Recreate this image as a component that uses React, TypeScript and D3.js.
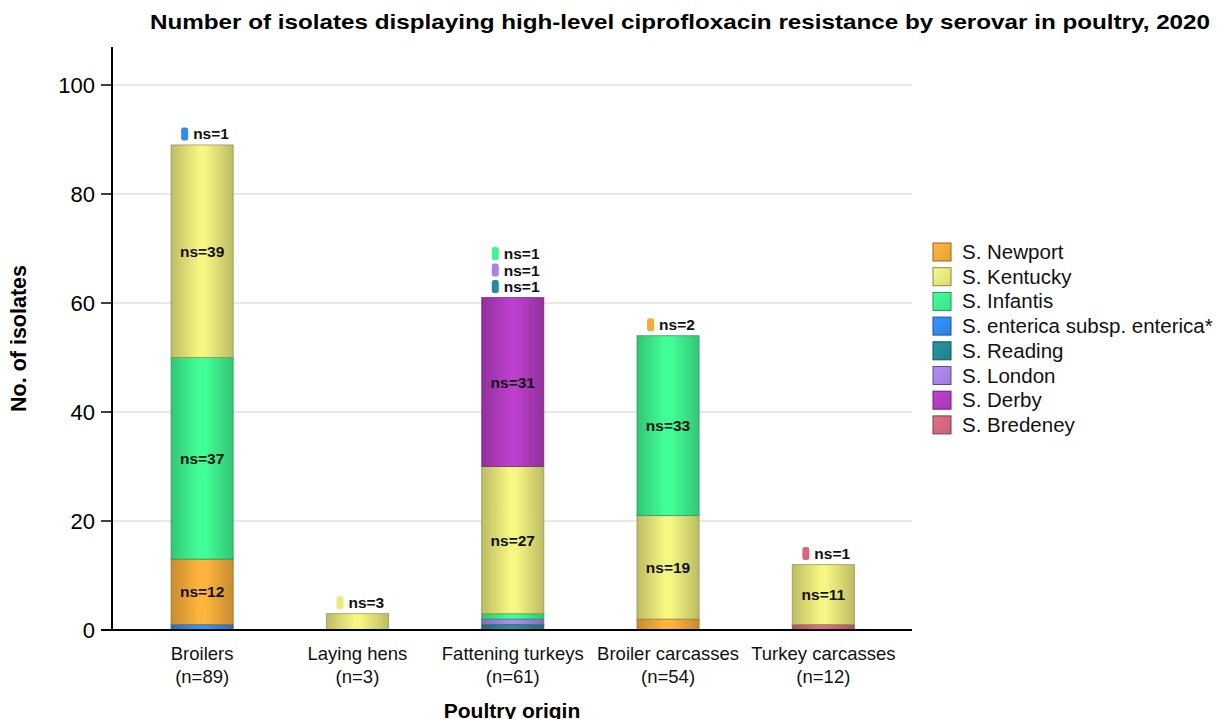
import React from "react";
import * as d3 from "d3";

const categories = ["Broilers", "Laying hens", "Fattening turkeys", "Broiler carcasses", "Turkey carcasses"];
const categoryTotals = ["(n=89)", "(n=3)", "(n=61)", "(n=54)", "(n=12)"];
const serovars = ["S. Newport", "S. Kentucky", "S. Infantis", "S. enterica subsp. enterica*", "S. Reading", "S. London", "S. Derby", "S. Bredeney"];
const serovarColors = ["#f7ac3a", "#e9e97c", "#3ef590", "#2f8cf2", "#238c96", "#a784e6", "#b33cc2", "#d4687f"];
// values per serovar, per category (same order as categories)
const newport = [12, 0, 0, 2, 0];
const kentucky = [39, 3, 27, 19, 11];
const infantis = [37, 0, 1, 33, 0];
const enterica = [1, 0, 0, 0, 0];
const reading = [0, 0, 1, 0, 0];
const london = [0, 0, 1, 0, 0];
const derby = [0, 0, 31, 0, 0];
const bredeney = [0, 0, 0, 0, 1];
// stacking order from bottom, per category (indices into serovars)
const stackOrder = [
  [3, 0, 2, 1],
  [1],
  [4, 5, 2, 1, 6],
  [0, 1, 2],
  [7, 1],
];
const yTicks = [0, 20, 40, 60, 80, 100];
const outsideThreshold = 5;

const seriesValues = [newport, kentucky, infantis, enterica, reading, london, derby, bredeney];

export default function App() {
  const W = 1220, H = 719;
  const x0 = 112, x1 = 912, yBottom = 630, yTop = 47;
  const y = d3.scaleLinear().domain([0, 100]).range([yBottom, 85]);
  const x = d3.scaleBand<string>().domain(categories).range([124.5, 901]).paddingInner(0.6).paddingOuter(0.3);
  const bw = x.bandwidth();

  const darker = (c: string, k: number) => d3.color(c)!.darker(k).formatHex();
  const brighter = (c: string, k: number) => d3.color(c)!.brighter(k).formatHex();

  return (
    <svg width={W} height={H} style={{ position: "absolute", left: 0, top: 0, fontFamily: "Liberation Sans, Arial, sans-serif" }}>
      <defs>
        {serovarColors.map((c, i) => (
          <linearGradient key={i} id={`g${i}`} x1="0" x2="1" y1="0" y2="0">
            <stop offset="0" stopColor={darker(c, 0.6)} />
            <stop offset="0.45" stopColor={brighter(c, 0.15)} />
            <stop offset="0.55" stopColor={brighter(c, 0.15)} />
            <stop offset="1" stopColor={darker(c, 0.6)} />
          </linearGradient>
        ))}
        {serovarColors.map((c, i) => (
          <linearGradient key={"l" + i} id={`lg${i}`} x1="0" x2="1" y1="0" y2="1">
            <stop offset="0" stopColor={brighter(c, 0.2)} />
            <stop offset="1" stopColor={darker(c, 0.2)} />
          </linearGradient>
        ))}
      </defs>
      <rect width={W} height={H} fill="#fff" />
      <text x={680} y={29} textAnchor="middle" fontWeight="bold" fontSize={21} fill="#000" textLength={1060} lengthAdjust="spacingAndGlyphs">
        Number of isolates displaying high-level ciprofloxacin resistance by serovar in poultry, 2020
      </text>
      {yTicks.map((t) => (
        <g key={t}>
          {t > 0 && <line x1={x0} x2={x1} y1={y(t)} y2={y(t)} stroke="#e0e0e0" strokeWidth={1.5} />}
          <line x1={101} x2={x0} y1={y(t)} y2={y(t)} stroke="#000" strokeWidth={1.5} />
          <text x={95} y={y(t) + 7.5} textAnchor="end" fontSize={22} fill="#000">{t}</text>
        </g>
      ))}
      {categories.map((cat, ci) => {
        let acc = 0;
        const segs = stackOrder[ci].map((si) => {
          const v = seriesValues[si][ci];
          const s = { si, v, y0: acc, y1: acc + v };
          acc += v;
          return s;
        });
        const top = acc;
        const outside = segs.filter((s) => s.v < outsideThreshold);
        const cx = x(cat)! + bw / 2;
        return (
          <g key={cat}>
            {segs.map((s) => (
              <rect key={s.si} x={x(cat)!} width={bw} y={y(s.y1)} height={y(s.y0) - y(s.y1)}
                fill={`url(#g${s.si})`} stroke={darker(serovarColors[s.si], 1.4)} strokeOpacity={0.7} strokeWidth={1} />
            ))}
            {segs.filter((s) => s.v >= outsideThreshold).map((s) => (
              <text key={"t" + s.si} x={cx} y={(y(s.y0) + y(s.y1)) / 2 + 5.5} textAnchor="middle" fontWeight="bold" fontSize={15.5} fill="#111">
                ns={s.v}
              </text>
            ))}
            {outside.map((s, k) => {
              const ly = y(top) - 11 - k * 16.5;
              return (
                <g key={"o" + s.si}>
                  <rect x={cx - 21} y={ly - 6.5} width={7} height={13} rx={2.5} fill={serovarColors[s.si]} />
                  <text x={cx - 9} y={ly + 5.5} fontWeight="bold" fontSize={15.5} fill="#111">ns={s.v}</text>
                </g>
              );
            })}
            <text x={cx} y={660} textAnchor="middle" fontSize={18.5} fill="#111">{cat}</text>
            <text x={cx} y={683} textAnchor="middle" fontSize={18.5} fill="#111">{categoryTotals[ci]}</text>
          </g>
        );
      })}
      <line x1={x0} x2={x0} y1={yTop} y2={yBottom} stroke="#000" strokeWidth={2} />
      <line x1={x0 - 11} x2={x1} y1={yBottom} y2={yBottom} stroke="#000" strokeWidth={2} />
      <text transform={`translate(26, ${(yTop + yBottom) / 2 + 0}) rotate(-90)`} textAnchor="middle" fontWeight="bold" fontSize={21.5} fill="#000">
        No. of isolates
      </text>
      <text x={512} y={718} textAnchor="middle" fontWeight="bold" fontSize={21} fill="#000">Poultry origin</text>
      {serovars.map((s, i) => (
        <g key={s} transform={`translate(933, ${252 + i * 24.7})`}>
          <rect x={0} y={-9} width={18} height={18} fill={`url(#lg${i})`} stroke={darker(serovarColors[i], 1.5)} strokeWidth={1} />
          <text x={29} y={7} fontSize={20.5} fill="#111">{s}</text>
        </g>
      ))}
    </svg>
  );
}
